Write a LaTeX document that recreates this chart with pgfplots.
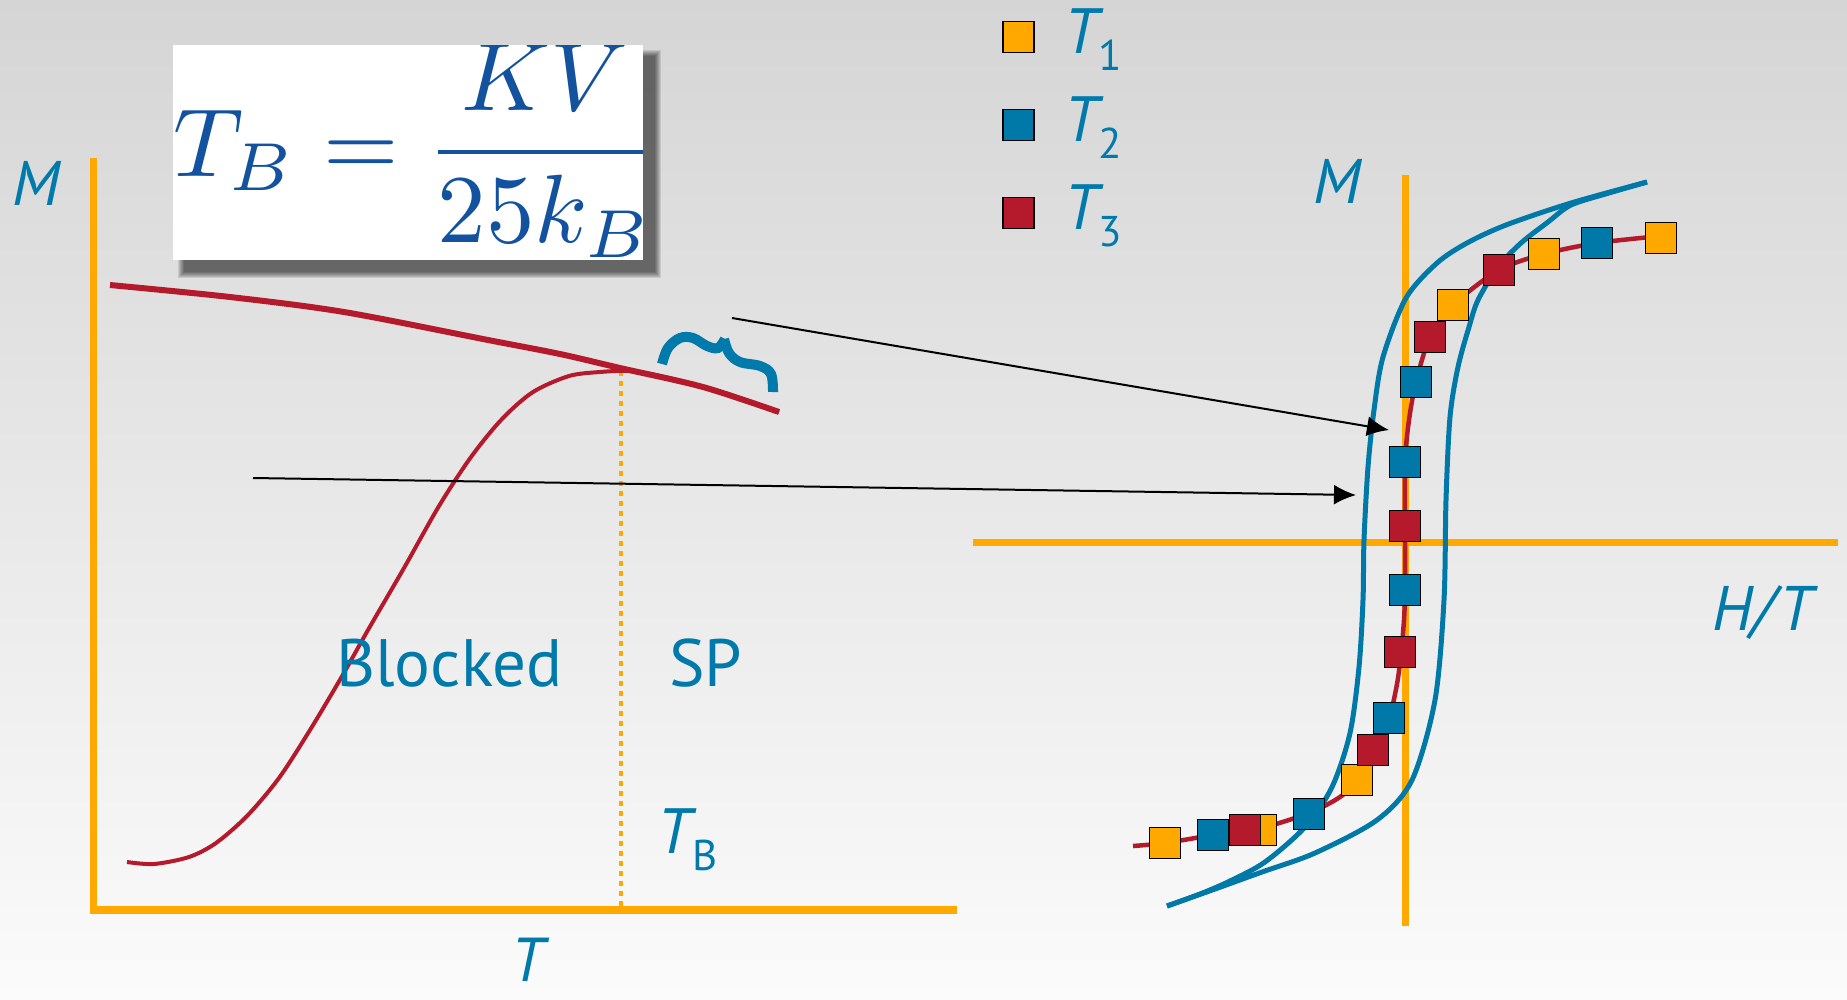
\documentclass[border=0pt]{standalone}
\usepackage{graphicx}
\usepackage{fontspec}
\setmainfont{PT Sans}
\usepackage{pgfplots}
\pgfplotsset{compat=1.18}
\usepackage{pgfplotstable}
\usetikzlibrary{arrows.meta}

\definecolor{axisorange}{RGB}{255,168,0}
\definecolor{curvered}{RGB}{180,26,44}
\definecolor{loopblue}{RGB}{0,121,168}
\definecolor{labelblue}{RGB}{0,122,170}
\definecolor{formulablue}{RGB}{18,82,158}
\definecolor{bgtop}{RGB}{213,213,213}
\definecolor{bgbottom}{RGB}{251,251,251}

% T with an upright subscript, as used in the legend and the T_B label
\newcommand{\Tsub}[1]{{\fontsize{64}{64}\selectfont\itshape T}\kern1pt\raisebox{-17pt}{\fontsize{43}{43}\selectfont #1}}

% ---- left panel: magnetisation against temperature ----
\pgfplotstableread{
x y
110 285
230 297
344 312
488 340
560 354
620 368
703 387
779 412
}\fcdata
\pgfplotstableread{
x y
127 862
154 864
189 857
216 843
247 816
279 778
310 730
341 678
368 630
404 568
439 506
471 457
502 419
533 392
569 376
600 372
630 371
660 376
703 387
779 412
}\zfcdata

% ---- right panel: magnetisation against H/T ----
\pgfplotstableread{
x y
1133 846
1165 843
1213 835
1261 828
1309 813
1340 797
1357 780
1373 750
1389 718
1397 684
1401 654
1404 620
1405 590
1405 526
1405 462
1409 420
1416 382
1430 337
1453 305
1499 270
1544 254
1597 243
1661 236
}\mastercurve
\pgfplotstableread{
x y
1661 238
1544 254
1453 305
1357 780
1261 830
1165 843
}\tone
\pgfplotstableread{
x y
1597 243
1416 382
1405 462
1405 590
1389 718
1309 814
1213 835
}\ttwo
\pgfplotstableread{
x y
1499 270
1430 337
1405 526
1400 652
1373 750
1245 830
}\tthree
\pgfplotstableread{
x y
1167 906
1200 894
1230 881
1265 862
1305 827
1332 787
1350 733
1359 667
1363 600
1364 540
1368 467
1374 410
1383 357
1406 298
1437 263
1467 243
1506 225
1571 203
1647 182
}\loopleft
\pgfplotstableread{
x y
1167 906
1215 889
1262 872
1315 853
1377 820
1412 780
1435 700
1444 600
1446 500
1450 417
1458 367
1469 327
1478 300
1498 267
1521 243
1548 222
1571 205
1609 193
1647 182
}\loopright

\begin{document}
\begin{tikzpicture}
\begin{axis}[
  width=1847pt, height=999pt, scale only axis,
  xmin=0, xmax=1847, ymin=0, ymax=999, y dir=reverse,
  enlargelimits=false, hide axis, clip=false,
  legend style={at={(axis cs:1003,3)}, anchor=north west, draw=none, fill=none,
    inner sep=0pt, outer sep=0pt, row sep=16pt, column sep=30pt,
    nodes={inner sep=0pt, text height=50pt, text depth=22pt, text=labelblue}},
  legend cell align=left,
  legend image code/.code={\draw[#1] plot coordinates {(16pt,2pt)};},
]
% background
\fill[top color=bgtop, bottom color=bgbottom] (axis cs:0,0) rectangle (axis cs:1847,999);

% formula card with its shadow
\pgfplotsinvokeforeach{0,1,2,3,4,5,6}{
  \fill[black, opacity=0.1] (axis cs:{178+#1},{50+#1}) rectangle (axis cs:{661-#1},{278-#1});
}
\path[fill=white, path picture={
  \node[anchor=base west, inner sep=0pt, text=formulablue]
    at ([yshift=-131pt]path picture bounding box.north west)
    {\scalebox{9.7}{$\displaystyle T_B = \frac{KV}{25k_B}$}};
}] (axis cs:173,45) rectangle (axis cs:643,260);

% left axes and the blocking temperature
\draw[axisorange, line width=7pt] (axis cs:93,158) -- (axis cs:93,910);
\draw[axisorange, line width=8pt] (axis cs:90,910) -- (axis cs:957,910);
\draw[axisorange, line width=4.5pt, dash pattern=on 5pt off 5pt] (axis cs:621,371) -- (axis cs:621,907);

\addplot[forget plot, curvered, line width=4pt, smooth] table {\zfcdata};
\addplot[forget plot, curvered, line width=6pt, smooth] table {\fcdata};

% brace-like squiggle marking the superparamagnetic branch
\addplot[forget plot, labelblue, line width=10pt, smooth, tension=0.6] coordinates {
  (662,364) (668,348) (680,338) (693,338) (707,346) (718,348) (725,339)};
\addplot[forget plot, labelblue, line width=10pt, smooth, tension=0.6] coordinates {
  (724,339) (729,353) (740,362) (760,366) (771,374) (773,392)};

% right axes
\draw[axisorange, line width=7pt] (axis cs:1405,175) -- (axis cs:1405,926);
\draw[axisorange, line width=7pt] (axis cs:973,542) -- (axis cs:1838,542);

\addplot[forget plot, curvered, line width=4.5pt, smooth] table {\mastercurve};

\addplot[only marks, mark=square*, mark size=15.5pt,
  mark options={draw=black, line width=1.8pt, fill=axisorange}] table {\tone};
\addplot[only marks, mark=square*, mark size=15.5pt,
  mark options={draw=black, line width=1.8pt, fill=loopblue}] table {\ttwo};
\addplot[only marks, mark=square*, mark size=15.5pt,
  mark options={draw=black, line width=1.8pt, fill=curvered}] table {\tthree};

\addplot[forget plot, loopblue, line width=5pt, smooth] table {\loopleft};
\addplot[forget plot, loopblue, line width=5pt, smooth] table {\loopright};

% arrows linking the two panels
\draw[line width=2pt, -{Latex[length=22pt,width=20pt]}] (axis cs:732,318) -- (axis cs:1389,430);
\draw[line width=2pt, -{Latex[length=22pt,width=20pt]}] (axis cs:253,478) -- (axis cs:1356,495);

% labels
\begin{scope}[every node/.style={inner sep=0pt, text=labelblue}]
\node[anchor=base west, font=\fontsize{63}{63}\selectfont\itshape] at (axis cs:12,205) {M};
\node[anchor=base west, font=\fontsize{62}{62}\selectfont\itshape] at (axis cs:511,981) {T};
\node[anchor=base west, font=\fontsize{67}{67}\selectfont] at (axis cs:336,686) {Blocked};
\node[anchor=base west, font=\fontsize{67}{67}\selectfont] at (axis cs:669,686) {SP};
\node[anchor=base west] at (axis cs:657,853) {\Tsub{B}};
\node[anchor=base west, font=\fontsize{63}{63}\selectfont\itshape] at (axis cs:1313,203) {M};
\node[anchor=base west, font=\fontsize{63}{63}\selectfont\itshape] at (axis cs:1712,630) {H/\kern6pt T};
\end{scope}

\legend{\Tsub{1}, \Tsub{2}, \Tsub{3}}
\end{axis}
\end{tikzpicture}
\end{document}
